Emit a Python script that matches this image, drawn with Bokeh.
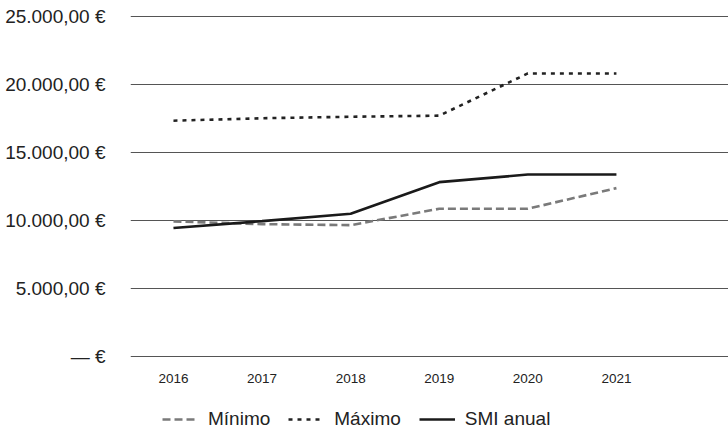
from bokeh.plotting import figure
from bokeh.layouts import column
from bokeh.models import FixedTicker, Range1d, Legend, LegendItem
from bokeh.embed import file_html
from bokeh.resources import INLINE

years = [2016, 2017, 2018, 2019, 2020, 2021]
minimo = [9930, 9730, 9650, 10860, 10860, 12380]
maximo = [17350, 17530, 17640, 17720, 20830, 20830]
smi = [9440, 9950, 10490, 12820, 13380, 13380]
y_ticks = [0, 5000, 10000, 15000, 20000, 25000]
y_labels = ["— €", "5.000,00 €", "10.000,00 €", "15.000,00 €", "20.000,00 €", "25.000,00 €"]
series_names = ["Mínimo", "Máximo", "SMI anual"]

FONT = "Liberation Sans"
styles = [dict(line_color="#7a7a7a", line_width=2.6, line_dash="8 4"),
          dict(line_color="#222222", line_width=2.6, line_dash="4 5"),
          dict(line_color="#1a1a1a", line_width=2.6)]
series = [minimo, maximo, smi]

p = figure(frame_width=598, frame_height=342, output_backend="svg", toolbar_location=None,
           x_range=Range1d(2015.515, 2022.265), y_range=Range1d(-100, 25100),
           min_border_left=130, min_border_right=0, min_border_top=15, min_border_bottom=31)
p.outline_line_color = None
p.background_fill_color = "white"
p.border_fill_color = "white"

p.xgrid.visible = False
p.ygrid.ticker = FixedTicker(ticks=y_ticks)
p.ygrid.grid_line_color = "#555555"
p.ygrid.grid_line_width = 1.2

p.yaxis.ticker = FixedTicker(ticks=y_ticks)
p.yaxis.major_label_overrides = {t: l for t, l in zip(y_ticks, y_labels)}
p.yaxis.axis_line_color = None
p.yaxis.major_tick_line_color = None
p.yaxis.minor_tick_line_color = None
p.yaxis.major_label_standoff = 19
p.yaxis.major_label_text_font = FONT
p.yaxis.major_label_text_font_size = "19px"
p.yaxis.major_label_text_color = "#222222"

p.xaxis.ticker = FixedTicker(ticks=years)
p.xaxis.major_label_overrides = {y: str(y) for y in years}
p.xaxis.axis_line_color = None
p.xaxis.major_tick_line_color = None
p.xaxis.minor_tick_line_color = None
p.xaxis.major_label_standoff = 10
p.xaxis.major_label_text_font = FONT
p.xaxis.major_label_text_font_size = "13.5px"
p.xaxis.major_label_text_color = "#222222"

for vals, st in zip(series, styles):
    p.line(years, vals, **st)

# legend strip below the chart
p2 = figure(width=728, height=42, output_backend="svg", toolbar_location=None,
            x_axis_type=None, y_axis_type=None,
            x_range=Range1d(2015.515, 2022.265), y_range=Range1d(-20000, -10000),
            min_border_left=0, min_border_right=0, min_border_top=0, min_border_bottom=0)
p2.outline_line_color = None
p2.xgrid.visible = False
p2.ygrid.visible = False
items = []
for name, vals, st in zip(series_names, series, styles):
    r = p2.line(years, vals, **st)
    items.append(LegendItem(label=name, renderers=[r]))

legend = Legend(items=items, orientation="horizontal", location=(32, 0),
                label_text_font=FONT, label_text_font_size="19px", label_text_color="#222222",
                glyph_width=36, label_standoff=10, spacing=18, padding=0, margin=0,
                border_line_color=None, background_fill_alpha=0)
p2.add_layout(legend, "center")

layout = column(p, p2, spacing=0)
open("out.html", "w").write(file_html(layout, INLINE))
